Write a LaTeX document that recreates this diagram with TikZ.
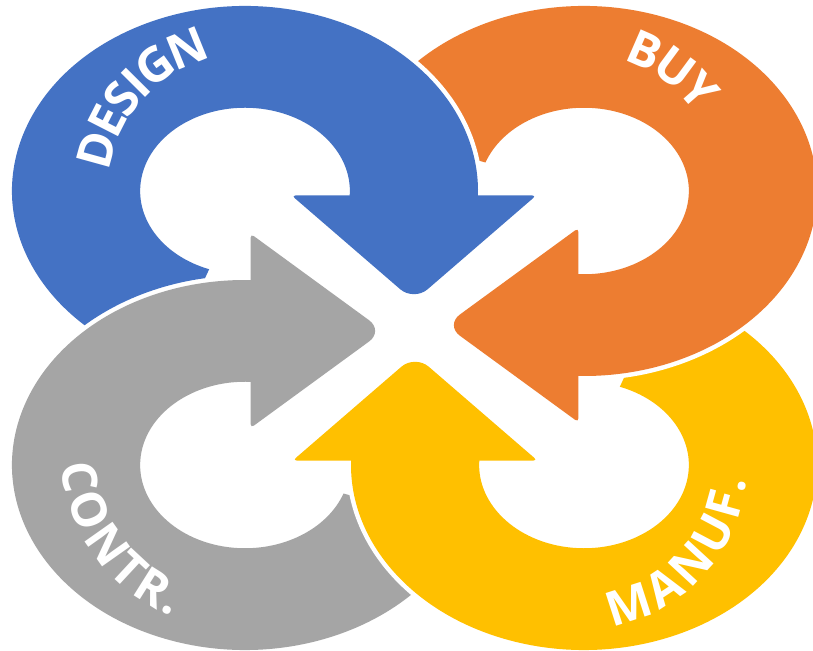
\documentclass[tikz,border=0pt]{standalone}
\usepackage{fontspec}
\setmainfont{Open Sans}
\usetikzlibrary{decorations.text}
\definecolor{cBlue}{HTML}{4472C4}
\definecolor{cOrange}{HTML}{ED7D31}
\definecolor{cGrey}{HTML}{A5A5A5}
\definecolor{cYellow}{HTML}{FFC000}
\newcommand{\arrfont}{\fontsize{48}{48}\selectfont\bfseries}
\newcommand{\bandpath}{(250:1) arc[start angle=250, end angle=-3, radius=1] -- (-6:0.45) arc[start angle=-6, end angle=250, radius=0.45] -- cycle}
% head: base y=-0.024, half width 0.525 around 0.725, tip at y=-0.595
\newcommand{\headpath}{(0.725,-0.024) [rounded corners=4pt] -- (1.25,-0.024) -- (0.9875,-0.3095) [rounded corners=18pt] -- (0.725,-0.595) -- (0.4625,-0.3095) [rounded corners=4pt] -- (0.2,-0.024) -- cycle}
\tikzset{
  halo/.style={draw=white, line width=9pt, line join=round},
}
\newcommand{\ringarrow}[4]{%
  \begin{scope}[shift={(#1,#2)}, xscale=233, yscale=185, rotate=#3]
    \path[halo] \bandpath;
    \path[halo] \headpath;
    \fill[#4] \bandpath;
    \fill[#4] \headpath;
  \end{scope}}
\begin{document}
\begin{tikzpicture}[x=1pt,y=1pt]
\useasboundingbox (0,0) rectangle (813,650);
\ringarrow{245}{185}{90}{cGrey}
\ringarrow{584}{185}{180}{cYellow}
\ringarrow{584}{459}{270}{cOrange}
\begin{scope}
  \clip (-20,185) -- (7.5,185) arc[start angle=180, end angle=0, x radius=237.5, y radius=189.5] -- (840,185) -- (840,680) -- (-20,680) -- cycle;
  \ringarrow{245}{459}{0}{cBlue}
\end{scope}
\path[decorate, decoration={text along path, text align=center, text color=white, raise=-17pt, text={|\arrfont|DESIGN}}]
  (245,459) ++(184:154) arc[start angle=184, end angle=92, radius=154];
\path[decorate, decoration={text along path, text align=center, text color=white, raise=-17pt, text={|\arrfont|BUY}}]
  (584,459) ++(100:153) arc[start angle=100, end angle=8, radius=153];
\path[decorate, decoration={text along path, text align=center, text color=white, raise=-17pt, text={|\arrfont|CONTR.}}]
  (238,198) ++(171:160) arc[start angle=171, end angle=261, radius=160];
\path[decorate, decoration={text along path, text align=center, text color=white, raise=-17pt, text={|\arrfont|MANUF.}}]
  (584,185) ++(272:146) arc[start angle=272, end angle=362, radius=146];
\end{tikzpicture}
\end{document}
